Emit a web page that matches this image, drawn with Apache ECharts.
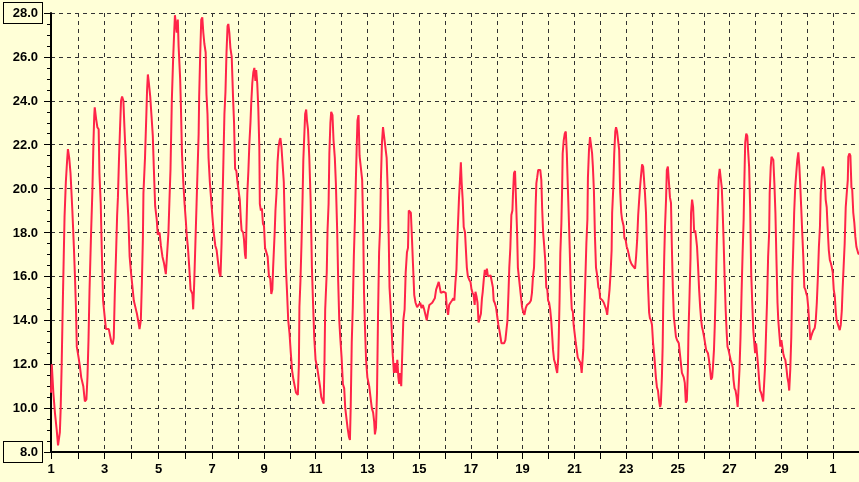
<!DOCTYPE html>
<html><head><meta charset="utf-8">
<script src="https://cdn.jsdelivr.net/npm/echarts@6/dist/echarts.min.js"></script>
<style>html,body{margin:0;padding:0;background:#ffffd7}#c{width:859px;height:482px}</style>
</head><body><div id="c"></div>
<script>
// chart time (days from start of day 1) and temperature
const dayPos = [
0.00,0.03,0.05,0.09,0.12,0.15,0.22,0.27,0.34,0.37,0.41,0.46,0.52,0.57,0.62,0.65,0.70,0.75,0.82,0.88,0.92,0.96,0.99,
1.06,1.11,1.16,1.24,1.30,1.36,1.40,1.44,1.48,1.54,1.59,1.63,1.66,1.68,1.73,1.78,1.83,1.86,1.91,1.95,
2.00,2.05,2.11,2.22,2.28,2.32,2.37,2.41,2.45,2.50,2.54,2.57,2.61,2.65,2.69,2.73,2.78,2.82,2.87,2.92,2.97,
3.02,3.07,3.13,3.18,3.24,3.30,3.36,3.40,3.45,3.49,3.53,3.55,3.61,3.66,3.69,3.72,3.76,3.81,3.86,3.91,3.95,
4.00,4.06,4.10,4.17,4.22,4.28,4.34,4.41,4.47,4.51,4.55,4.59,4.64,4.69,4.73,4.76,4.83,4.87,4.90,4.96,4.99,
5.03,5.08,5.13,5.18,5.21,5.26,5.31,5.36,5.43,5.46,5.50,5.55,5.59,5.63,5.67,5.69,5.73,5.77,5.81,5.85,5.89,5.94,5.97,
6.01,6.05,6.10,6.15,6.20,6.25,6.31,6.36,6.41,6.46,6.51,6.55,6.59,6.62,6.66,6.70,6.74,6.78,6.81,6.85,6.89,6.94,6.99,
7.03,7.07,7.12,7.16,7.21,7.25,7.29,7.32,7.38,7.41,7.45,7.48,7.50,7.54,7.58,7.62,7.66,7.69,7.73,7.77,7.81,7.85,7.88,7.92,7.96,
8.00,8.02,8.06,8.10,8.14,8.18,8.22,8.27,8.32,8.37,8.42,8.46,8.50,8.53,8.59,8.62,8.66,8.70,8.74,8.78,8.81,8.85,8.89,8.94,8.98,
9.02,9.06,9.11,9.16,9.21,9.26,9.31,9.36,9.41,9.48,9.52,9.54,9.58,9.62,9.66,9.69,9.73,9.76,9.80,9.83,9.87,9.92,9.97,
10.02,10.06,10.11,10.16,10.23,10.28,10.33,10.38,10.43,10.47,10.50,10.53,10.59,10.62,10.66,10.69,10.73,10.76,10.81,10.85,10.90,10.94,10.99,
11.03,11.07,11.11,11.16,11.21,11.26,11.30,11.35,11.39,11.44,11.48,11.51,11.55,11.59,11.63,11.67,11.71,11.74,11.77,11.81,11.85,11.91,11.95,11.99,
12.02,12.06,12.10,12.15,12.22,12.27,12.32,12.37,12.41,12.44,12.48,12.52,12.56,12.60,12.64,12.67,12.71,12.75,12.80,12.84,12.89,12.93,12.97,
13.00,13.04,13.08,13.12,13.17,13.22,13.26,13.30,13.34,13.37,13.41,13.45,13.49,13.53,13.58,13.62,13.67,13.71,13.74,13.78,13.82,13.86,13.90,13.95,
14.00,14.06,14.13,14.18,14.23,14.28,14.33,14.38,14.43,14.48,14.53,14.58,14.64,14.69,14.74,14.79,14.84,14.89,14.93,14.97,
15.02,15.07,15.12,15.16,15.20,15.25,15.29,15.34,15.40,15.45,15.49,15.53,15.57,15.60,15.64,15.67,15.71,15.74,15.77,15.81,15.85,15.90,15.93,15.97,
16.01,16.06,16.11,16.15,16.19,16.23,16.27,16.30,16.34,16.38,16.42,16.46,16.51,16.55,16.58,16.62,16.66,16.70,16.74,16.78,16.83,16.88,16.93,16.97,
17.00,17.04,17.09,17.14,17.18,17.22,17.26,17.30,17.35,17.40,17.45,17.49,17.53,17.57,17.60,17.64,17.68,17.72,17.74,17.78,17.82,17.86,17.90,17.93,17.97,
18.01,18.05,18.09,18.13,18.18,18.23,18.28,18.33,18.38,18.43,18.47,18.51,18.55,18.58,18.61,18.64,18.67,18.71,18.75,18.79,18.83,18.86,18.90,18.94,18.98,
19.02,19.06,19.09,19.13,19.17,19.21,19.25,19.28,19.32,19.36,19.40,19.44,19.48,19.50,19.53,19.56,19.60,19.63,19.65,19.69,19.73,19.77,19.81,19.85,19.88,19.92,19.96,
20.00,20.04,20.07,20.11,20.15,20.19,20.23,20.27,20.30,20.34,20.38,20.41,20.44,20.48,20.52,20.56,20.60,20.62,20.66,20.70,20.74,20.78,20.81,20.85,20.89,20.93,20.98,
21.02,21.06,21.09,21.13,21.18,21.23,21.32,21.36,21.41,21.45,21.49,21.53,21.55,21.59,21.63,21.67,21.70,21.74,21.78,21.82,21.86,21.90,21.93,21.99,
22.02,22.07,22.11,22.15,22.19,22.23,22.28,22.33,22.38,22.43,22.47,22.51,22.55,22.58,22.62,22.66,22.70,22.74,22.77,22.81,22.85,22.89,22.93,22.97,
23.00,23.04,23.08,23.12,23.16,23.19,23.23,23.27,23.31,23.35,23.39,23.42,23.46,23.49,23.51,23.55,23.58,23.62,23.65,23.69,23.73,23.77,23.81,23.84,23.88,23.92,23.96,
24.00,24.04,24.07,24.11,24.15,24.19,24.23,24.26,24.30,24.34,24.38,24.42,24.46,24.48,24.52,24.56,24.58,24.62,24.66,24.70,24.74,24.77,24.81,24.85,24.89,24.93,24.97,
25.00,25.04,25.08,25.12,25.16,25.19,25.23,25.27,25.31,25.35,25.39,25.42,25.46,25.49,25.53,25.56,25.60,25.64,25.68,25.72,25.76,25.79,25.83,25.87,25.91,25.95,25.98,
26.02,26.06,26.10,26.14,26.18,26.21,26.25,26.29,26.33,26.37,26.40,26.44,26.48,26.52,26.56,26.60,26.63,26.66,26.70,26.74,26.77,26.81,26.85,26.89,26.93,26.97,
27.00,27.04,27.08,27.12,27.16,27.19,27.23,27.27,27.31,27.35,27.39,27.42,27.46,27.50,27.54,27.58,27.60,27.64,27.67,27.70,27.74,27.78,27.82,27.86,27.90,27.93,27.97,
28.01,28.05,28.09,28.12,28.16,28.20,28.24,28.28,28.32,28.35,28.39,28.43,28.47,28.51,28.54,28.58,28.62,28.66,28.70,28.74,28.77,28.81,28.85,28.89,28.93,28.97,
29.00,29.04,29.08,29.12,29.16,29.19,29.23,29.28,29.33,29.37,29.41,29.45,29.49,29.53,29.56,29.60,29.64,29.68,29.72,29.75,29.79,29.83,29.87,29.91,29.95,29.98,
30.02,30.06,30.10,30.14,30.17,30.21,30.25,30.29,30.33,30.37,30.40,30.44,30.48,30.52,30.56,30.60,30.62,30.66,30.70,30.74,30.77,30.81,30.85,30.89,30.93,30.96,
31.00,31.03
];
const tempC = [
10.7,12.0,12.0,10.7,10.7,9.8,9.0,8.3,8.9,9.9,12.0,15.2,18.7,20.3,21.3,21.8,21.4,20.7,19.0,17.3,16.0,14.5,12.8,
12.3,11.9,11.4,11.0,10.3,10.4,11.4,13.1,15.4,18.0,19.9,22.1,23.3,23.7,23.2,22.8,22.7,20.7,19.3,17.2,
14.9,14.3,13.6,13.6,13.6,13.0,12.9,13.2,15.2,17.1,18.8,19.6,21.3,22.7,24.0,24.2,24.0,22.8,21.4,19.8,18.7,
16.9,16.2,15.5,14.9,14.6,14.3,13.9,13.6,14.0,15.7,17.8,19.8,21.4,23.3,24.5,25.2,24.8,24.2,23.3,22.4,20.9,
19.2,18.6,17.9,18.0,17.4,16.9,16.6,16.1,16.1,18.0,19.5,20.9,24.0,25.9,27.1,27.9,27.1,27.7,26.5,25.0,23.7,
21.6,20.3,19.3,18.5,17.9,17.3,16.4,15.4,15.2,14.5,15.7,17.7,19.3,20.9,22.5,24.2,26.1,27.7,27.8,27.1,26.6,26.2,24.3,
23.4,21.4,20.3,19.5,18.7,18.0,17.4,17.2,16.7,16.2,16.0,17.5,19.6,21.2,23.4,24.4,26.2,27.4,27.5,27.1,26.4,26.0,24.2,
23.0,20.9,20.8,20.3,20.3,19.5,18.6,18.1,18.0,17.7,17.0,16.8,18.0,19.8,20.8,22.1,23.0,23.9,24.8,25.3,25.5,24.9,25.4,24.8,23.7,
21.9,19.3,19.0,19.1,18.4,18.3,17.3,17.3,16.9,16.0,15.9,15.2,15.4,16.4,18.0,19.0,19.8,21.2,21.9,22.2,22.3,21.9,21.2,20.3,18.3,
16.4,15.4,14.0,13.4,12.5,11.7,11.3,11.0,10.7,10.6,12.0,14.6,15.8,17.5,19.5,21.3,22.5,23.4,23.6,23.1,22.7,21.4,19.5,
16.4,14.9,13.2,12.2,11.8,11.4,11.0,10.5,10.5,10.2,11.9,14.5,16.2,18.1,19.3,21.6,23.0,23.5,23.35,22.2,21.4,20.25,18.1,
15.75,14.0,13.2,12.3,11.1,10.9,10.0,9.5,9.1,8.7,8.55,10.05,13.0,14.6,16.9,18.5,20.5,21.9,23.1,23.35,21.5,21.5,20.4,18.2,
15.3,13.6,12.2,11.4,11.0,10.5,10.0,9.8,9.4,8.8,9.1,10.7,14.3,17.1,18.25,20.4,22.1,22.8,22.8,21.9,21.4,20.0,17.75,
15.5,14.7,13.7,12.5,11.6,12.05,11.6,12.2,11.4,11.1,11.6,11.0,12.5,14.0,14.5,16.15,17.1,17.3,19.0,19.05,18.9,17.8,16.6,15.15,
14.8,14.6,14.55,14.8,14.55,14.7,14.5,14.5,14.0,14.4,14.7,14.7,14.8,14.9,15.0,15.4,15.45,15.75,15.5,15.25,
15.25,15.3,15.25,15.25,14.6,14.25,14.7,14.8,14.9,15.0,14.9,15.7,16.3,17.5,18.7,19.6,20.5,21.2,20.3,19.5,18.25,18.0,17.3,16.4,
16.0,15.85,15.75,15.4,15.25,15.15,14.7,15.3,15.1,14.8,13.9,13.85,14.3,15.0,15.3,15.85,16.3,16.05,16.35,16.0,16.0,16.05,16.0,15.5,
14.9,14.8,14.6,14.15,13.8,13.55,13.25,12.95,12.95,12.95,13.1,13.55,14.0,15.3,16.4,17.3,18.8,19.0,19.7,20.7,20.8,20.85,18.0,16.4,16.35,
15.5,15.05,14.6,14.4,14.25,14.55,14.7,14.7,14.8,14.9,15.25,16.0,16.4,17.5,19.15,20.25,20.5,20.85,20.9,20.85,20.4,19.15,18.0,17.4,16.75,
15.5,15.4,14.9,14.8,14.5,14.0,13.25,12.65,12.2,12.05,11.8,11.6,12.3,13.25,14.9,17.05,18.4,20.05,21.6,22.2,22.5,22.6,21.6,20.0,18.9,17.3,15.5,
14.5,14.4,13.8,13.4,13.0,12.65,12.3,12.3,12.3,12.05,11.6,11.55,12.65,14.3,15.85,17.5,18.6,20.5,21.75,22.35,22.4,21.6,21.0,19.9,17.8,16.4,16.0,
15.5,15.4,15.0,15.0,14.9,14.8,14.5,14.25,14.3,15.4,16.15,17.2,18.9,19.95,21.6,22.6,22.8,22.6,22.6,21.75,19.8,18.9,18.6,18.3,
17.75,17.65,17.35,17.2,17.0,16.75,16.6,16.5,16.45,16.35,16.9,17.65,18.8,19.35,20.05,20.6,21.1,21.0,20.5,19.8,18.9,17.05,15.5,14.35,
14.1,14.0,13.8,13.0,12.5,12.05,11.4,10.95,10.8,10.35,10.05,10.2,11.4,12.8,14.5,16.9,18.25,19.5,20.85,21.0,21.0,19.6,19.35,17.5,15.5,14.15,13.7,
13.25,13.1,13.1,12.95,12.5,12.05,11.6,11.55,11.4,11.15,10.25,10.35,11.85,13.4,15.05,16.85,18.9,19.5,19.15,18.0,18.1,17.8,17.35,16.45,15.4,14.6,14.0,
13.7,13.5,13.25,12.95,12.65,12.65,12.5,12.2,11.75,11.3,11.4,11.85,12.65,13.7,15.4,17.05,18.9,20.5,20.9,20.85,20.05,19.15,17.65,15.95,14.45,13.4,12.8,
12.65,12.7,12.2,12.05,11.85,11.3,10.9,10.8,10.5,10.05,10.05,11.75,13.25,15.25,17.05,18.6,20.5,22.1,22.5,22.4,21.75,21.0,19.15,16.15,14.8,13.55,
13.1,12.5,12.95,12.95,11.85,11.35,10.8,10.7,10.5,10.3,10.35,11.85,13.4,14.9,16.9,18.0,19.8,21.0,21.45,21.5,21.3,20.25,18.9,16.75,14.8,14.0,13.4,
12.8,13.1,13.15,12.5,12.3,12.2,11.85,11.4,11.15,10.8,11.75,13.25,15.85,17.5,18.9,20.05,20.7,21.3,21.65,21.0,20.25,19.15,18.0,16.9,15.5,15.4,
15.25,15.1,14.6,13.85,13.1,13.25,13.4,13.55,13.65,14.0,14.8,15.95,17.35,18.25,19.8,20.55,21.0,20.85,20.3,19.5,19.15,18.1,17.2,16.75,16.6,16.45,
16.2,15.4,15.1,14.35,14.0,13.85,13.7,13.55,13.8,14.45,15.4,16.45,17.5,19.15,19.8,20.4,21.45,21.6,21.5,20.05,19.95,18.9,18.45,17.8,17.35,17.3,
17.05,17.0
];
// day boundaries as placed on the original time axis (days from start)
const dayMarks = [0,1.03,2.06,3.10,4.13,5.16,6.19,7.18,8.18,9.17,10.16,11.16,12.15,13.14,14.14,15.13,16.13,17.12,18.11,19.11,20.10,21.09,22.09,23.08,24.07,25.07,26.06,27.05,28.05,29.04,30.03];
const dayNumbers = [1,2,3,4,5,6,7,8,9,10,11,12,13,14,15,16,17,18,19,20,21,22,23,24,25,26,27,28,29,30,1];
const xMax = 31.03;
const yMin = 8, yMax = 28, yStep = 2;

const chart = echarts.init(document.getElementById('c'), null, {renderer: 'canvas'});
const labelMarks = dayMarks.filter((_, i) => i % 2 === 0);
const FONT = '"Liberation Sans", Arial, sans-serif';
const grid = {color: '#333333', type: [4, 4], width: 1};
chart.setOption({
  animation: false,
  backgroundColor: '#ffffd7',
  grid: {left: 47, right: 0, top: 13, bottom: 30},
  xAxis: {
    type: 'value', min: 0, max: xMax,
    axisLine: {show: true, onZero: false, lineStyle: {color: '#000', width: 2}},
    axisTick: {show: true, customValues: dayMarks, length: 7, lineStyle: {color: '#000', width: 1}},
    axisLabel: {
      customValues: labelMarks, margin: 11, color: '#000', fontWeight: 'bold', fontSize: 13, fontFamily: FONT,
      formatter: v => { const i = dayMarks.findIndex(m => Math.abs(m - v) < 1e-6); return i >= 0 ? String(dayNumbers[i]) : ''; }
    },
    splitLine: {show: true, lineStyle: grid}
  },
  yAxis: {
    type: 'value', min: yMin, max: yMax, interval: yStep,
    axisLine: {show: true, lineStyle: {color: '#000', width: 2}},
    axisTick: {show: true, length: 7, lineStyle: {color: '#000'}},
    minorTick: {show: true, splitNumber: 4, length: 4, lineStyle: {color: '#000'}},
    axisLabel: {
      margin: 9, color: '#000',
      formatter: v => (v === yMin || v === yMax) ? '{b|' + v.toFixed(1) + '}' : '{n|' + v.toFixed(1) + '}',
      rich: {
        n: {fontWeight: 'bold', fontSize: 13, fontFamily: FONT, color: '#000', padding: [4, 4, 3, 7], lineHeight: 16},
        b: {fontWeight: 'bold', fontSize: 13, fontFamily: FONT, color: '#000', padding: [4, 4, 3, 7], lineHeight: 16,
            width: 27, align: 'right', borderColor: '#000', borderWidth: 1, backgroundColor: '#ffffd7'}
      }
    },
    splitLine: {show: true, lineStyle: grid}
  },
  series: [{
    type: 'line', data: dayPos.map((t, i) => [t, tempC[i]]),
    showSymbol: false, symbol: 'none', smooth: false,
    lineStyle: {color: '#ff2448', width: 2}, clip: true
  }]
});
</script></body></html>
